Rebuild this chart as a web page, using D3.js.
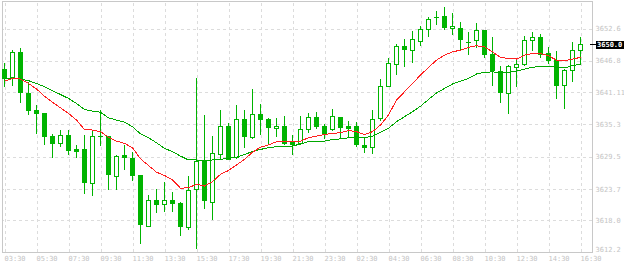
<!DOCTYPE html>
<html>
<head>
<meta charset="UTF-8">
<title>Candles</title>
<script src="https://d3js.org/d3.v7.min.js"></script>
<style>
  body { margin: 0; background: #fff; }
  svg { display: block; }
  .axis text { font-family: "DejaVu Sans Mono", monospace; font-size: 7px; fill: #c4c4c4; }
  .grid line { stroke: #dcdcdc; stroke-dasharray: 3,3; shape-rendering: crispEdges; }
  .grid path, .axis path, .axis line { display: none; }
</style>
</head>
<body>
<div id="chart"></div>
<script>
// OHLC, one candle every 30 minutes
const opens = [3645.2,3643.7,3648.2,3640.8,3637.8,3637.2,3633.1,3631.8,3633.3,3630.8,
  3630.8,3624.7,3633.1,3633.1,3625.9,3629.7,3629.2,3626.1,3616.9,3621.6,
  3620.8,3621.6,3621.0,3616.7,3623.5,3628.7,3621.3,3629.9,3634.9,3629.3,
  3636.2,3633.0,3637.1,3636.2,3634.5,3634.9,3632.2,3631.8,3634.3,3636.5,
  3634.9,3634.3,3636.5,3634.9,3634.9,3631.5,3631.1,3636.4,3642.1,3646.1,
  3649.3,3648.6,3650.2,3652.4,3654.4,3654.8,3652.6,3652.6,3650.1,3650.4,
  3652.2,3648.0,3644.9,3640.8,3645.6,3646.1,3650.4,3651.0,3648.1,3646.8,
  3642.3,3645.0,3648.6];
const highs = [3646.3,3648.6,3649.0,3642.9,3638.7,3637.3,3633.5,3634.2,3634.2,3631.5,
  3633.3,3634.1,3637.8,3633.2,3629.7,3631.5,3630.3,3626.1,3622.5,3623.5,
  3624.8,3623.1,3621.3,3625.9,3643.6,3636.9,3633.1,3637.8,3635.4,3638.8,
  3637.8,3641.6,3638.9,3636.4,3636.4,3636.7,3633.3,3636.7,3637.3,3637.5,
  3635.3,3638.0,3636.5,3635.8,3635.6,3632.8,3637.8,3643.4,3647.2,3649.7,
  3650.6,3652.0,3653.0,3654.5,3655.7,3656.3,3655.3,3653.7,3651.9,3653.5,
  3652.2,3651.0,3645.8,3645.9,3646.8,3651.1,3651.9,3651.6,3649.2,3648.5,
  3645.2,3650.1,3651.0];
const lows = [3642.2,3642.4,3639.3,3637.0,3633.7,3631.7,3629.4,3631.4,3629.9,3629.4,
  3622.9,3622.5,3631.5,3623.6,3623.6,3627.1,3625.2,3613.9,3616.8,3619.4,
  3619.6,3619.6,3615.3,3616.3,3613.0,3620.2,3618.2,3629.1,3628.9,3629.1,
  3631.2,3632.8,3633.5,3631.8,3633.2,3631.7,3629.9,3631.7,3633.9,3634.6,
  3632.8,3634.2,3632.8,3632.9,3631.3,3630.3,3630.1,3636.0,3642.1,3644.3,
  3645.8,3646.4,3649.6,3651.2,3653.3,3652.4,3651.6,3648.9,3647.9,3649.2,
  3647.4,3642.4,3639.3,3637.3,3642.1,3645.9,3648.6,3647.4,3646.3,3639.9,
  3638.1,3643.0,3646.1];
const closes = [3643.6,3648.2,3641.0,3637.9,3637.3,3633.2,3631.9,3633.3,3630.6,3630.5,
  3624.9,3633.1,3633.0,3626.2,3629.5,3629.3,3626.1,3617.3,3621.6,3620.9,
  3621.5,3621.1,3616.9,3623.3,3628.7,3621.6,3630.0,3634.9,3629.0,3636.2,
  3633.2,3637.0,3636.1,3634.7,3634.9,3631.9,3631.7,3634.3,3636.5,3635.0,
  3633.6,3636.7,3634.8,3634.6,3631.6,3631.2,3636.2,3642.1,3646.3,3649.3,
  3648.8,3650.6,3652.4,3654.3,3654.5,3652.7,3653.0,3650.7,3650.1,3652.2,
  3648.0,3645.1,3641.1,3645.8,3646.1,3650.4,3650.9,3648.0,3646.9,3642.4,
  3645.0,3648.6,3649.7];

// moving averages as drawn
const maFast = [3643.0,3643.5,3643.4,3642.6,3641.6,3640.3,3639.2,3638.2,3637.2,3636.0,
  3634.3,3634.2,3633.9,3632.9,3632.2,3631.8,3631.0,3629.0,3627.8,3626.6,
  3626.0,3625.2,3623.7,3623.8,3624.4,3624.1,3624.9,3626.2,3626.9,3627.9,
  3628.9,3630.2,3631.1,3631.5,3632.1,3632.2,3632.2,3632.2,3632.8,3633.1,
  3633.4,3633.6,3633.7,3634.1,3633.9,3633.4,3633.9,3635.1,3636.9,3639.6,
  3641.1,3642.6,3644.1,3645.5,3646.8,3647.7,3648.3,3648.6,3649.1,3649.4,
  3649.2,3648.3,3647.3,3647.1,3647.0,3647.7,3648.0,3648.0,3647.6,3646.8,
  3646.7,3647.0,3647.3];
const maSlow = [3643.4,3643.5,3643.4,3643.1,3642.6,3642.0,3641.3,3640.6,3639.9,3639.0,
  3637.9,3637.6,3637.4,3636.4,3636.0,3635.6,3634.8,3633.5,3632.8,3631.9,
  3630.9,3630.3,3629.5,3628.8,3628.8,3628.6,3628.8,3628.9,3629.1,3629.3,
  3629.8,3630.3,3630.7,3631.0,3631.2,3631.3,3631.3,3631.7,3632.1,3632.1,
  3632.2,3632.5,3632.6,3632.8,3633.0,3632.8,3633.1,3633.8,3634.5,3635.7,
  3636.6,3637.5,3638.5,3639.7,3640.9,3641.7,3642.5,3643.0,3643.5,3644.3,
  3644.6,3644.7,3644.5,3644.6,3644.8,3645.2,3645.5,3645.7,3645.7,3645.5,
  3645.4,3645.8,3646.1];

const timeLabels = ["03:30","05:30","07:30","09:30","11:30","13:30","15:30","17:30","19:30","21:30",
  "23:30","02:30","04:30","06:30","08:30","10:30","12:30","14:30","16:30"];
const timeIndex = [0,4,8,12,16,20,24,28,32,36,40,44,48,52,56,60,64,68,72];
const priceTicks = [3612.2, 3618.0, 3623.7, 3629.5, 3635.3, 3641.11, 3646.8, 3652.6];
const priceLabels = ["3612.2","3618.0","3623.7","3629.5","3635.3","3641.11","3646.8","3652.6"];
const lastPriceLabel = "3650.0";

const width = 624, height = 266;
const plotLeft = 2, plotRight = 592, plotTop = 1, plotBottom = 252;
const green = "#00b400";

const svg = d3.select("#chart").append("svg")
  .attr("width", width)
  .attr("height", height);

const x = d3.scaleLinear().domain([0, opens.length - 1]).range([4, 580]);
const y = d3.scaleLinear().domain([3612.2, 3652.6]).range([252, 28]);

// grid
svg.append("g").attr("class", "grid")
  .attr("transform", `translate(0,${plotBottom})`)
  .call(d3.axisBottom(x).tickValues(timeIndex).tickSize(-(plotBottom - plotTop)).tickFormat(""))
  .selectAll("line").attr("transform", "translate(0.5,0)");
svg.append("g").attr("class", "grid")
  .attr("transform", `translate(${plotRight},0)`)
  .call(d3.axisLeft(y).tickValues(priceTicks.slice(1)).tickSize(plotRight - plotLeft).tickFormat(""))
  .selectAll("line").attr("transform", "translate(0,0.5)");

// frame
svg.append("rect")
  .attr("x", plotLeft + 0.5).attr("y", plotTop + 0.5)
  .attr("width", plotRight - plotLeft).attr("height", plotBottom - plotTop)
  .attr("fill", "none").attr("stroke", "#c8c8c8")
  .attr("shape-rendering", "crispEdges");

// axes labels
const xAxis = svg.append("g").attr("class", "axis")
  .attr("transform", `translate(0,${plotBottom + 1})`)
  .call(d3.axisBottom(x).tickValues(timeIndex).tickSize(0).tickPadding(3)
    .tickFormat((d, i) => timeLabels[i]));
xAxis.selectAll("text").attr("text-anchor", "start").attr("dy", "0.71em");

const yAxis = svg.append("g").attr("class", "axis")
  .attr("transform", `translate(${plotRight},0)`)
  .call(d3.axisRight(y).tickValues(priceTicks).tickSize(0).tickPadding(3.5)
    .tickFormat((d, i) => priceLabels[i]));
yAxis.selectAll("text")
  .attr("dy", (d, i) => i === 0 ? "-0.05em" : "0.4em");

// candles
const candles = svg.append("g").attr("shape-rendering", "crispEdges");
opens.forEach((o, i) => {
  const c = closes[i];
  const xc = Math.round(x(i));
  candles.append("line")
    .attr("x1", xc + 0.5).attr("x2", xc + 0.5)
    .attr("y1", Math.round(y(highs[i]))).attr("y2", Math.round(y(lows[i])) + 1)
    .attr("stroke", green);
  const top = Math.round(y(Math.max(o, c)));
  const bot = Math.round(y(Math.min(o, c)));
  if (Math.abs(c - o) < 0.2) {
    candles.append("line")
      .attr("x1", xc - 2).attr("x2", xc + 3)
      .attr("y1", top + 0.5).attr("y2", top + 0.5)
      .attr("stroke", green);
  } else if (c > o) {
    candles.append("rect")
      .attr("x", xc - 1.5).attr("y", top + 0.5)
      .attr("width", 4).attr("height", Math.max(1, bot - top))
      .attr("fill", "#fff").attr("stroke", green);
  } else {
    candles.append("rect")
      .attr("x", xc - 2).attr("y", top)
      .attr("width", 5).attr("height", Math.max(1, bot - top + 1))
      .attr("fill", green);
  }
});

// moving averages
const line = d3.line().x((d, i) => Math.round(x(i)) + 0.5).y(d => y(d));
svg.append("path").datum(maSlow)
  .attr("d", line).attr("fill", "none").attr("stroke", "#00a800")
  .attr("stroke-width", 1).attr("shape-rendering", "crispEdges");
svg.append("path").datum(maFast)
  .attr("d", line).attr("fill", "none").attr("stroke", "#ff2020")
  .attr("stroke-width", 1).attr("shape-rendering", "crispEdges");

// last price marker
const yl = Math.round(y(closes[closes.length - 1]));
svg.append("line")
  .attr("x1", plotRight - 2).attr("x2", plotRight + 4)
  .attr("y1", yl + 0.5).attr("y2", yl + 0.5)
  .attr("stroke", "#000").attr("shape-rendering", "crispEdges");
svg.append("rect")
  .attr("x", plotRight + 4).attr("y", yl - 3)
  .attr("width", width - plotRight - 4).attr("height", 8)
  .attr("fill", "#000");
svg.append("text")
  .attr("x", plotRight + 5).attr("y", yl + 1)
  .attr("dy", "0.35em")
  .attr("font-family", "DejaVu Sans Mono, monospace")
  .attr("font-size", "7px").attr("font-weight", "bold")
  .attr("fill", "#fff")
  .text(lastPriceLabel);
</script>
</body>
</html>
